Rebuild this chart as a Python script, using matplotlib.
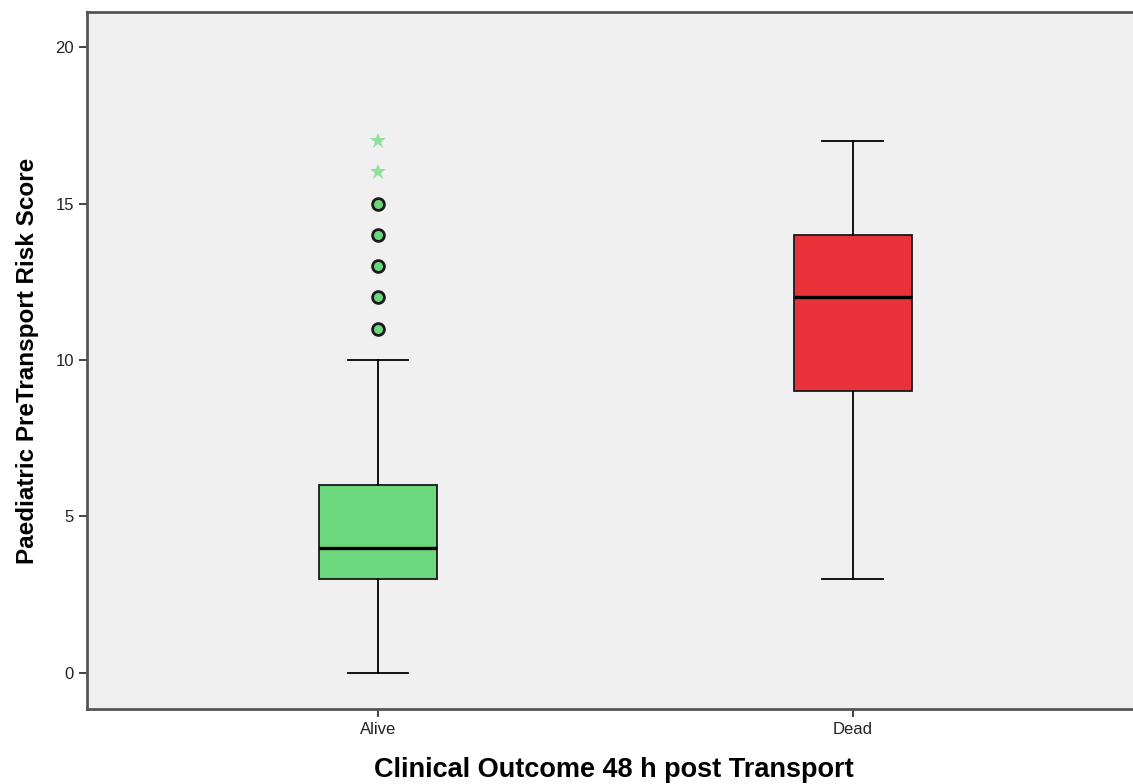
import matplotlib
matplotlib.use("Agg")
import matplotlib.pyplot as plt

# Risk score summary per outcome group
groups = ["Alive", "Dead"]
q1 = [3, 9]
medians = [4, 12]
q3 = [6, 14]
whisker_low = [0, 3]
whisker_high = [10, 17]
outliers = [[11, 12, 13, 14, 15], []]   # circles
extremes = [[16, 17], []]               # stars

box_colors = ["#6dd77e", "#e93239"]

plt.rcParams["font.family"] = ["Liberation Sans", "DejaVu Sans"]

fig = plt.figure(figsize=(11.33, 7.84), dpi=100)
ax = fig.add_axes([0.0768, 0.0957, 0.93, 0.889])
ax.set_facecolor("#f0f0f0")

stats = []
for i, g in enumerate(groups):
    stats.append({
        "label": g, "q1": q1[i], "med": medians[i], "q3": q3[i],
        "whislo": whisker_low[i], "whishi": whisker_high[i],
        "fliers": outliers[i],
    })

positions = [1, 2]
bp = ax.bxp(stats, positions=positions, widths=0.25, patch_artist=True,
            showfliers=True, capwidths=0.128,
            boxprops=dict(edgecolor="#1a1a1a", linewidth=1.3),
            medianprops=dict(color="black", linewidth=2.4),
            whiskerprops=dict(color="black", linewidth=1.3),
            capprops=dict(color="black", linewidth=1.3),
            flierprops=dict(marker="o", markerfacecolor="#6dd77e",
                            markeredgecolor="#1a1a1a", markeredgewidth=2,
                            markersize=8.5, linestyle="none"))
for patch, c in zip(bp["boxes"], box_colors):
    patch.set_facecolor(c)

for pos, ext in zip(positions, extremes):
    if ext:
        ax.plot([pos] * len(ext), ext, linestyle="none", marker="*",
                markersize=12, color="#8fe09b", markeredgewidth=0)

ax.set_xlim(0.3874, 2.606)
ax.set_ylim(-1.15, 21.12)
ax.set_yticks([0, 5, 10, 15, 20])
ax.set_xticks(positions)
ax.set_xticklabels(groups)

for side in ["left", "bottom", "top"]:
    ax.spines[side].set_color("#555555")
    ax.spines[side].set_linewidth(2)
ax.spines["right"].set_visible(False)
ax.tick_params(axis="both", direction="out", length=6, width=1.2,
               colors="#222222", labelsize=12)

ax.set_ylabel("Paediatric PreTransport Risk Score", fontsize=17.5,
              fontweight="bold", labelpad=12)
ax.set_xlabel("Clinical Outcome 48 h post Transport", fontsize=19.5,
              fontweight="bold", labelpad=14)

fig.savefig("out.png", dpi=100)
